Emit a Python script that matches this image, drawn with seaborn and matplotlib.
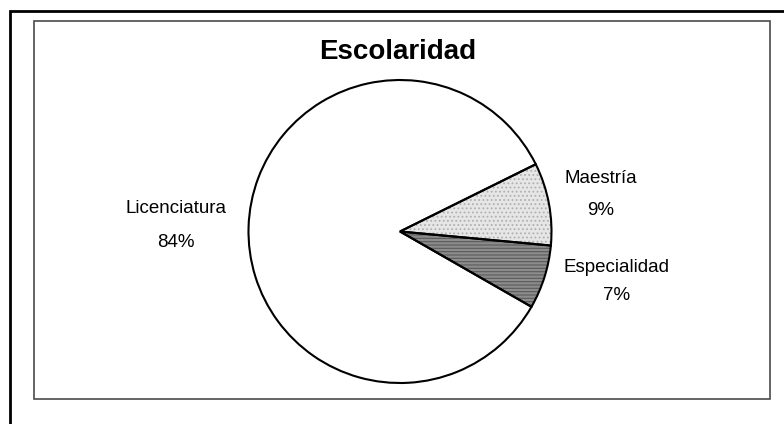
import matplotlib
matplotlib.use('Agg')
import matplotlib.pyplot as plt
import matplotlib.patches as mpatches
import seaborn as sns

# datos
categorias = ['Licenciatura', 'Maestría', 'Especialidad']
valores = [84.4, 8.8, 6.8]
rellenos = ['white', '#e6e6e6', '#8c8c8c']
tramas = ['', '....', '-----']
titulo = 'Escolaridad'

sns.set_theme(style='white')
plt.rcParams['font.family'] = ['Liberation Sans', 'DejaVu Sans']
plt.rcParams['hatch.linewidth'] = 0.8

W, H = 784, 424
fig = plt.figure(figsize=(W / 100, H / 100), dpi=100)
ax = fig.add_axes([0, 0, 1, 1])

# marco exterior y caja interior (coordenadas en pixeles, y hacia arriba)
ax.add_patch(mpatches.Rectangle((10, -50), 900, H - 11 + 50, fill=False,
                                edgecolor='black', linewidth=2.0, clip_on=True))
ax.add_patch(mpatches.Rectangle((34, H - 399), 770 - 34, 399 - 21, fill=False,
                                edgecolor='#4a4a4a', linewidth=1.2))

centro = (400, H - 231.5)
radio = 151.5

# rellenos con trama
wedges, _ = ax.pie(valores, colors=rellenos, startangle=-29.8, counterclock=False,
                   center=centro, radius=radio, frame=True,
                   wedgeprops=dict(linewidth=0))
hatch_cols = ['white', '#b0b0b0', '#5a5a5a']
for w, h, hc in zip(wedges, tramas, hatch_cols):
    if h:
        w.set_hatch(h)
        w.set_edgecolor(hc)
        w.set_linewidth(0)

# contornos
ax.pie(valores, colors=['none'] * 3, startangle=-29.8, counterclock=False,
       center=centro, radius=radio, frame=True,
       wedgeprops=dict(linewidth=1.5, edgecolor='black', fill=False))

total = sum(valores)
pos = {
    'Licenciatura': (176, 213, 247),
    'Maestría': (601, 183, 215),
    'Especialidad': (617, 272, 300),
}
for cat, v in zip(categorias, valores):
    x, y1, y2 = pos[cat]
    ax.text(x, H - y1, cat, ha='center', va='baseline', fontsize=13.5, color='black')
    ax.text(x, H - y2, f'{v / total * 100:.0f}%', ha='center', va='baseline',
            fontsize=13.5, color='black')

ax.text(397.5, H - 59, titulo, ha='center', va='baseline', fontsize=20,
        fontweight='bold', color='black')

ax.set_xlim(0, W)
ax.set_ylim(0, H)
ax.set_aspect('equal')
ax.axis('off')

fig.savefig('out.png', dpi=100)
